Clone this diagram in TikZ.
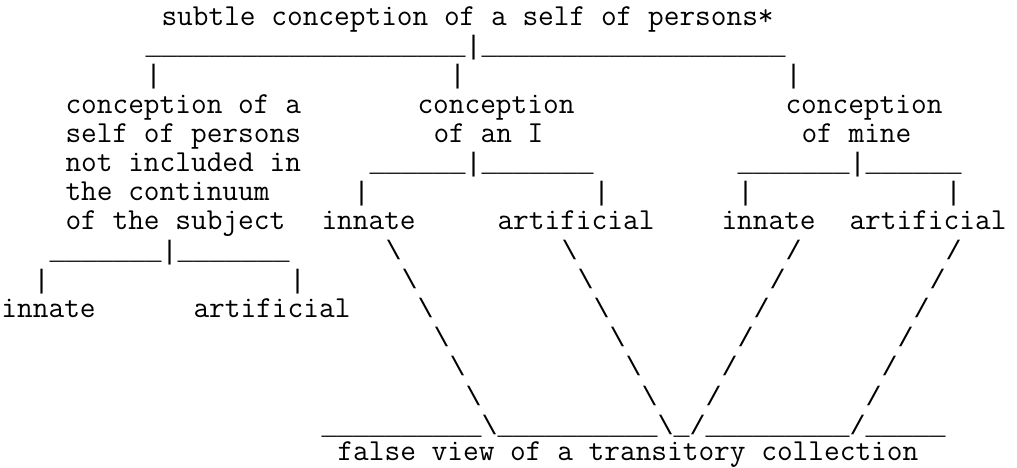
\documentclass[tikz,border=0pt]{standalone}
\usepackage{fontspec}
\newfontfamily\strokefont{Liberation Mono}
\newcommand\lowline[1]{\foreach \i in {1,...,#1}{\_}}
\tikzset{%
  label/.style={font=\ttfamily\fontsize{30.48pt}{29.2pt}\selectfont,
                inner sep=0pt, anchor=base west},
  ascii/.style={font=\strokefont\fontsize{26.67pt}{29.2pt}\selectfont,
                inner sep=0pt, anchor=base west},
}

\begin{document}
\begin{tikzpicture}[x=16pt, y=-29.2pt]

    % one unit = one character cell, rows counted downwards
    \useasboundingbox (-1.3pt,-3.7pt) rectangle (1015.7pt,-471.7pt);

    % top concept and its three branches
    \node[label] (title) at (10,1) {subtle conception of a self of persons*};
    \node[ascii] (forkTop) at (9,2) {\lowline{20}|\lowline{19}};
    \foreach \c in {9,28,49}
        \node[ascii] (drop-\c) at (\c,3) {|};

    % the three conceptions
    \foreach \txt [count=\k from 4] in {conception of a, self of persons,
            not included in, the continuum, of the subject}
        \node[label] (selfL-\k) at (4,\k) {\txt};
    \node[label] (concI) at (26,4) {conception};
    \node[label] (concIb) at (27,5) {of an I};
    \node[label] (concMine) at (49,4) {conception};
    \node[label] (concMineb) at (50,5) {of mine};

    %forks below I and mine
    \node[ascii] (forkI) at (23,6) {\lowline{6}|\lowline{7}};
    \node[ascii] (forkMine) at (46,6) {\lowline{7}|\lowline{6}};
    \foreach \c in {22,37,46,59}
        \node[ascii] (leg-\c) at (\c,7) {|};

    \node[label] (innI) at (20,8) {innate};
    \node[label] (artI) at (31,8) {artificial};
    \node[label] (innMine) at (45,8) {innate};
    \node[label] (artMine) at (53,8) {artificial};

    %fork below the left conception
    \node[ascii] (forkSelf) at (3,9) {\lowline{7}|\lowline{7}};
    \foreach \c in {2,18}
        \node[ascii] (foot-\c) at (\c,10) {|};
    \node[label] (innSelf) at (0,11) {innate};
    \node[label] (artSelf) at (12,11) {artificial};

    % slanted strokes down to the false view
    \foreach \r in {9,...,14} {
        \node[ascii] (slA-\r) at (\r+15,\r) {\textbackslash};
        \node[ascii] (slB-\r) at (\r+26,\r) {\textbackslash};
        \node[ascii] (slC-\r) at (58-\r,\r) {/};
        \node[ascii] (slD-\r) at (68-\r,\r) {/};
    }
    \node[ascii] (base) at (20,15)
        {\lowline{10}\textbackslash\lowline{10}\textbackslash\_/\lowline{9}/\lowline{5}};
    \node[label] (falseView) at (21,15.9) {false view of a transitory collection};

\end{tikzpicture}
\end{document}
